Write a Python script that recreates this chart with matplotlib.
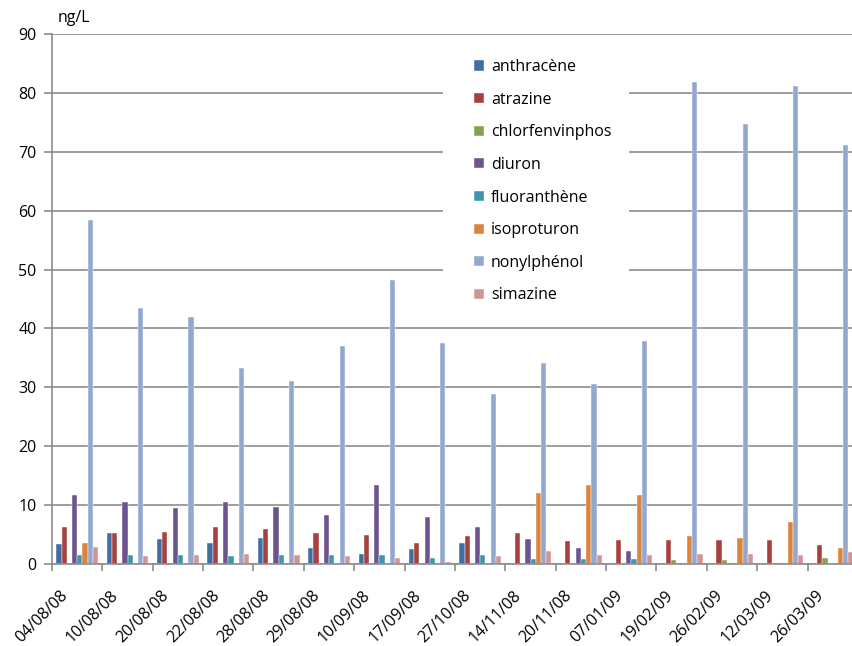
import matplotlib
matplotlib.use("Agg")
from matplotlib import pyplot as plt
from matplotlib.patches import Patch, Rectangle
from matplotlib.transforms import ScaledTranslation
import numpy as np

dates = ["04/08/08", "10/08/08", "20/08/08", "22/08/08", "28/08/08", "29/08/08",
         "10/09/08", "17/09/08", "27/10/08", "14/11/08", "20/11/08", "07/01/09",
         "19/02/09", "26/02/09", "12/03/09", "26/03/09"]

anthracene      = [3.4, 5.2, 4.3, 3.6, 4.5, 2.7, 1.75, 2.5, 3.6, 0, 0, 0, 0, 0, 0, 0]
atrazine        = [6.2, 5.2, 5.5, 6.2, 5.9, 5.2, 5.0, 3.6, 4.75, 5.2, 3.85, 4.1, 4.1, 4.1, 4.1, 3.2]
chlorfenvinphos = [0, 0, 0, 0, 0, 0, 0, 0, 0, 0, 0, 0, 0.6, 0.6, 0, 1.0]
diuron          = [11.8, 10.6, 9.5, 10.6, 9.7, 8.3, 13.4, 8.0, 6.2, 4.3, 2.7, 2.2, 0, 0, 0, 0]
fluoranthene    = [1.5, 1.5, 1.5, 1.3, 1.5, 1.5, 1.5, 1.1, 1.5, 0.85, 0.85, 0.85, 0, 0, 0, 0]
isoproturon     = [3.6, 0, 0, 0, 0, 0, 0, 0, 0, 12.0, 13.4, 11.8, 4.75, 4.5, 7.1, 2.7]
nonylphenol     = [58.5, 43.4, 42.0, 33.2, 31.1, 37.1, 48.3, 37.5, 28.8, 34.1, 30.6, 37.8,
                   81.8, 74.8, 81.1, 71.1]
simazine        = [2.9, 1.3, 1.5, 1.75, 1.5, 1.3, 1.1, 0.3, 1.3, 2.2, 1.5, 1.5, 1.75, 1.75, 1.5, 2.0]

series = [
    ("anthracène", anthracene, "#3E6EA3"),
    ("atrazine", atrazine, "#A6413E"),
    ("chlorfenvinphos", chlorfenvinphos, "#86A24E"),
    ("diuron", diuron, "#6C548F"),
    ("fluoranthène", fluoranthene, "#3F95AC"),
    ("isoproturon", isoproturon, "#D9843F"),
    ("nonylphénol", nonylphenol, "#93A8CF"),
    ("simazine", simazine, "#D19593"),
]

plt.rcParams["font.family"] = ["Open Sans", "DejaVu Sans"]
grid_col = "#8C8C8C"
fs = 11.5

fig = plt.figure(figsize=(8.53, 6.46), dpi=100)
ax = fig.add_axes([52 / 853, 82 / 646, 806 / 853, 530 / 646])

x = np.arange(len(dates))
n = len(series)
bw = 0.83 / n
for i, (name, vals, col) in enumerate(series):
    ax.bar(x - 0.415 + bw * (i + 0.5), vals, width=bw, color=col,
           edgecolor="white", linewidth=0.3, label=name, zorder=2)

ax.set_xlim(-0.5, len(dates) - 0.5)
ax.set_ylim(0, 90)
ax.set_yticks(range(0, 91, 10))
ax.yaxis.grid(True, color=grid_col, linewidth=1.2)
ax.set_axisbelow(True)

for s in ("top", "right"):
    ax.spines[s].set_visible(False)
for s in ("left", "bottom"):
    ax.spines[s].set_color(grid_col)
    ax.spines[s].set_linewidth(1.2)

ax.tick_params(axis="y", length=6, width=1.2, color=grid_col, labelsize=fs, pad=5)
ax.set_xticks(x)
ax.set_xticklabels(dates, rotation=45, ha="right", va="top",
                   rotation_mode="anchor", fontsize=fs)
ax.tick_params(axis="x", length=0, pad=17)
ax.set_xticks(np.arange(-0.5, len(dates), 1), minor=True)
ax.tick_params(axis="x", which="minor", length=5, width=1.2, color=grid_col)
shift = ScaledTranslation(-17 / 100, 0, fig.dpi_scale_trans)
for lbl in ax.get_xticklabels():
    lbl.set_transform(lbl.get_transform() + shift)

fig.text(58 / 853, 1 - 18 / 646, "ng/L", fontsize=fs, va="center", ha="left")

# white legend area hiding the gridlines behind it
fig.patches.append(Rectangle((443 / 853, 1 - 308 / 646), 186 / 853, 262 / 646,
                             transform=fig.transFigure, facecolor="white",
                             edgecolor="none", zorder=1))
ax.set_zorder(0)
ax.patch.set_visible(False)

handles = [Patch(facecolor=c, edgecolor="white", linewidth=0.3) for _, _, c in series]
leg = fig.legend(handles, [nm for nm, _, _ in series], loc="upper left",
                 bbox_to_anchor=(463 / 853, 1 - 48 / 646),
                 frameon=False, fontsize=fs, handlelength=0.6, handleheight=0.6,
                 handletextpad=0.45, labelspacing=1.04, borderpad=0.2)
leg.set_zorder(5)

fig.savefig("out.png", dpi=100)
